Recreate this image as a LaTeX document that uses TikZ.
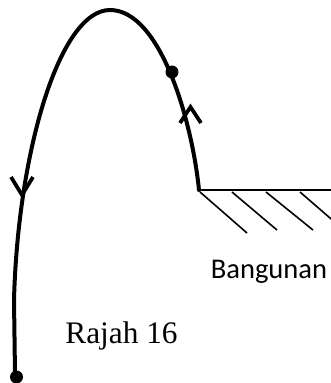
\documentclass[tikz,border=0pt]{standalone}
\usepackage{fontspec}
\newfontfamily\labelsans{Carlito}
\newfontfamily\labelserif{Liberation Serif}
\begin{document}
\begin{tikzpicture}[x=0.75pt,y=-0.75pt,
  path/.style={line width=3pt,line cap=round,line join=round},
  chevron/.style={line width=2.8pt,line join=miter},
  roof/.style={line width=1.7pt},
  hatch/.style={line width=1.2pt},
  dotmark/.style={fill=black}]
\useasboundingbox (0,0) rectangle (331,383);
% key points
\coordinate (corner) at (199,190);
\coordinate (apex) at (110,10);
\coordinate (low) at (14,300);
\coordinate (end) at (15,374);
\coordinate (roofend) at (331,190);
% trajectory
\draw[path] (corner) .. controls (192,120) and (160,10) .. (apex)
  .. controls (60,10) and (18,150) .. (low) -- (end);
% dots
\fill[dotmark] (172,72) circle (6.5);
\fill[dotmark] (16.5,377) circle (6.5);
% chevrons
\draw[chevron] (180,123) -- (190.5,107) -- (201,123);
\draw[chevron] (11,177) -- (22,195) -- (33,177);
% building
\draw[roof] (corner) -- (roofend);
\draw[hatch] (200,192) -- (247,233);
\draw[hatch] (232,192) -- (277,230);
\draw[hatch] (266,192) -- (313,230);
\draw[hatch] (300,192) -- (345,231);
% labels
\node[anchor=base,inner sep=0pt,font=\labelsans\fontsize{21.4}{24}\selectfont] (bangunan) at (269,278) {Bangunan};
\node[anchor=base,inner sep=0pt,font=\labelserif\fontsize{23.5}{27}\selectfont] (rajah) at (121.5,343) {Rajah 16};
\end{tikzpicture}
\end{document}
